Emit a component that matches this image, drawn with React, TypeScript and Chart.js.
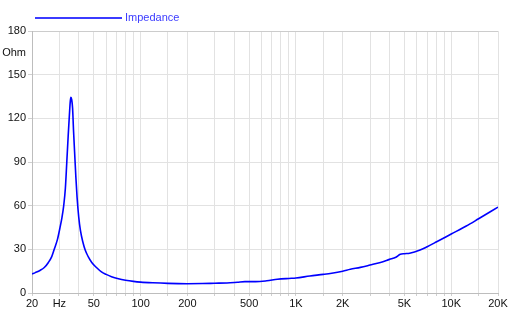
import React, { useEffect, useRef } from "react";
import { Chart, registerables } from "chart.js";

Chart.register(...registerables);

const seriesLabel = "Impedance";

const freqs = [
  20, 21, 22.5, 24, 25.5, 26.8, 28, 29.2, 30.3, 31.2, 32, 32.8, 33.5, 34.2, 34.8,
  35.3, 35.6, 36.0, 36.5, 37.0, 37.6, 38.3, 39.0, 40.0, 41.0, 42.5, 44, 46, 48.5,
  52, 56, 60, 65, 72, 80, 90, 100, 120, 150, 200, 250, 300, 360, 420, 470, 550,
  650, 760, 900, 1000, 1230, 1500, 1700, 2000, 2240, 2600, 3000, 3500, 4000, 4400,
  4700, 5000, 5400, 6300, 7000, 8000, 10000, 12500, 15000, 20000,
];

const impedance = [
  13.0, 14.0, 15.5, 17.5, 21, 25, 31, 37, 45, 52, 60, 72, 90, 108, 122,
  132, 134.5, 133, 127, 112, 97, 80, 66, 52, 43, 35, 29.5, 25, 21,
  17.5, 14.5, 12.8, 11.2, 9.8, 8.8, 8.0, 7.5, 7.0, 6.6, 6.4, 6.5, 6.7, 6.9, 7.4, 7.8, 7.8,
  8.4, 9.4, 10.0, 10.3, 11.7, 12.8, 13.6, 15.0, 16.3, 17.6, 19.2, 21, 23.1, 24.6,
  26.6, 27.0, 27.3, 29.5, 31.8, 35, 40.5, 46, 51, 59,
];

const xGridValues = [
  20, 30, 40, 50, 60, 70, 80, 90, 100, 150, 200, 300, 400, 500, 600, 700, 800, 900,
  1000, 1500, 2000, 3000, 4000, 5000, 6000, 7000, 8000, 9000, 10000, 15000, 20000,
];
const xTickLabels: Record<number, string> = {
  20: "20", 30: "Hz", 50: "50", 100: "100", 200: "200", 500: "500",
  1000: "1K", 2000: "2K", 5000: "5K", 10000: "10K", 20000: "20K",
};

const yTickValues = [0, 30, 60, 90, 120, 150, 165, 180];
const yTickLabels: Record<number, string> = {
  0: "0", 30: "30", 60: "60", 90: "90", 120: "120", 150: "150", 165: "Ohm", 180: "180",
};

const FONT = "'Liberation Sans', Arial, sans-serif";

const legendPlugin = {
  id: "customLegend",
  afterDraw(chart: any) {
    const ctx = chart.ctx;
    ctx.save();
    ctx.strokeStyle = "#3b3bff";
    ctx.lineWidth = 2;
    ctx.beginPath();
    ctx.moveTo(35, 18);
    ctx.lineTo(122, 18);
    ctx.stroke();
    ctx.fillStyle = "#3b3bff";
    ctx.font = `11px ${FONT}`;
    ctx.textBaseline = "middle";
    ctx.textAlign = "left";
    ctx.fillText(chart.data.datasets[0].label, 125, 18);
    ctx.restore();
  },
};

export default function App() {
  const canvasRef = useRef<HTMLCanvasElement | null>(null);

  useEffect(() => {
    if (!canvasRef.current) return;
    const chart = new Chart(canvasRef.current, {
      type: "line",
      data: {
        datasets: [
          {
            label: seriesLabel,
            data: freqs.map((f, i) => ({ x: f, y: impedance[i] })),
            borderColor: "#0000ff",
            borderWidth: 1.6,
            pointRadius: 0,
            fill: false,
            cubicInterpolationMode: "monotone",
          },
        ],
      },
      options: {
        animation: false,
        responsive: true,
        maintainAspectRatio: false,
        layout: { padding: { left: 0, right: 24, top: 31, bottom: 0 } },
        plugins: { legend: { display: false }, tooltip: { enabled: false } },
        scales: {
          x: {
            type: "logarithmic",
            min: 20,
            max: 20000,
            afterBuildTicks: (scale: any) => {
              scale.ticks = xGridValues.map((v) => ({ value: v }));
            },
            afterFit: (scale: any) => {
              scale.height = 32;
            },
            ticks: {
              autoSkip: false,
              maxRotation: 0,
              minRotation: 0,
              padding: 1,
              color: "#111",
              font: { family: FONT, size: 11 },
              callback: (v: any) => xTickLabels[Number(v)] ?? "",
            },
            grid: {
              color: "#e2e2e2",
              tickLength: 3,
              tickColor: "#cfcfcf",
            },
            border: { color: "#bdbdbd" },
          },
          y: {
            type: "linear",
            min: 0,
            max: 180,
            afterBuildTicks: (scale: any) => {
              scale.ticks = yTickValues.map((v) => ({ value: v }));
            },
            afterFit: (scale: any) => {
              scale.width = 32;
            },
            ticks: {
              autoSkip: false,
              padding: 2,
              color: "#111",
              font: { family: FONT, size: 11 },
              callback: (v: any) => yTickLabels[Number(v)] ?? "",
            },
            grid: {
              color: (c: any) =>
                c.tick && c.tick.value === 165 ? "rgba(0,0,0,0)" : c.tick && c.tick.value === 180 ? "#cccccc" : "#e2e2e2",
              tickColor: (c: any) =>
                c.tick && c.tick.value === 165 ? "rgba(0,0,0,0)" : "#cfcfcf",
              tickLength: 4,
            },
            border: { color: "#bdbdbd" },
          },
        },
      },
      plugins: [legendPlugin],
    } as any);
    return () => chart.destroy();
  }, []);

  return (
    <div style={{ position: "fixed", left: 0, top: 0, width: 522, height: 325, background: "#fff" }}>
      <canvas ref={canvasRef} />
    </div>
  );
}
